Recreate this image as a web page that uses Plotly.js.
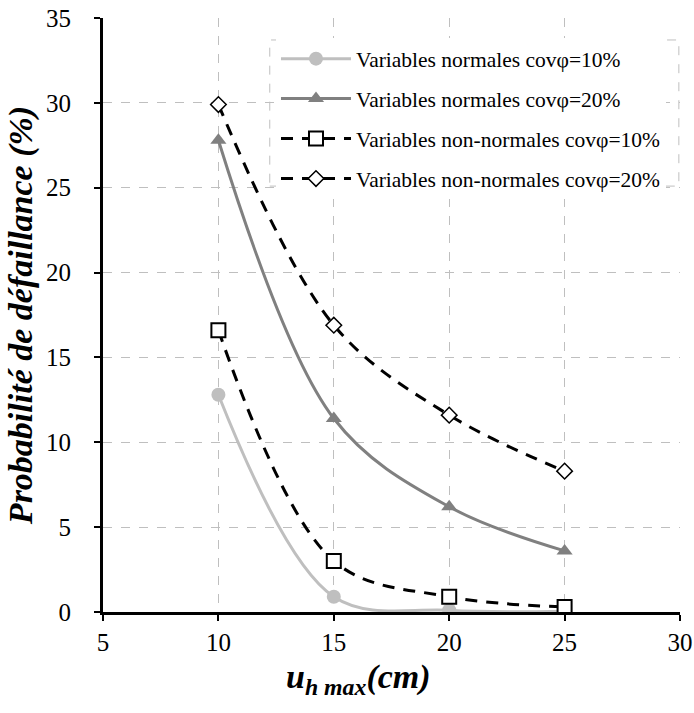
<!DOCTYPE html>
<html>
<head>
<meta charset="utf-8">
<script src="https://cdn.plot.ly/plotly-3.0.1.min.js"></script>
<style>html,body{margin:0;padding:0;background:#fff;}#chart{width:694px;height:713px;}</style>
</head>
<body>
<div id="chart"></div>
<script>
const xValues = [10, 15, 20, 25];
const normal10 = [12.8, 0.9, 0.1, 0.05];
const normal20 = [27.8, 11.4, 6.2, 3.6];
const nonNormal10 = [16.6, 3.0, 0.9, 0.3];
const nonNormal20 = [29.9, 16.9, 11.6, 8.3];
const seriesNames = [
  'Variables normales covφ=10%',
  'Variables normales covφ=20%',
  'Variables non-normales covφ=10%',
  'Variables non-normales covφ=20%'
];
const xTicks = [5, 10, 15, 20, 25, 30];
const yTicks = [0, 5, 10, 15, 20, 25, 30, 35];
const xTitle = '<b><i>u<sub>h max</sub>(cm)</i></b>';
const yTitle = '<b><i>Probabilité de défaillance (%)</i></b>';

const serif = '"Liberation Serif", "Times New Roman", Times, serif';
const traces = [
  {x: xValues, y: normal10, name: seriesNames[0], legendgroup: 'a', mode: 'lines+markers',
   line: {shape: 'spline', smoothing: 1, color: '#bfbfbf', width: 3},
   marker: {symbol: 'circle', size: 14, color: '#bfbfbf'}},
  {x: xValues, y: normal20, name: seriesNames[1], legendgroup: 'b', mode: 'lines+markers',
   line: {shape: 'spline', smoothing: 1, color: '#808080', width: 3},
   marker: {symbol: 'triangle-up', size: 14, color: '#808080'}},
  {x: xValues, y: nonNormal10, name: seriesNames[2], legendgroup: 'c', mode: 'lines+markers',
   line: {shape: 'spline', smoothing: 1, color: '#000000', width: 3, dash: '12px,9px'},
   marker: {symbol: 'square', size: 14, color: '#ffffff', line: {color: '#000000', width: 2}}},
  {x: xValues, y: nonNormal20, name: seriesNames[3], legendgroup: 'd', mode: 'lines+markers',
   line: {shape: 'spline', smoothing: 1, color: '#000000', width: 3, dash: '12px,9px'},
   marker: {symbol: 'diamond', size: 12, color: '#ffffff', line: {color: '#000000', width: 1.5}}}
];

const layout = {
  width: 694, height: 713,
  margin: {l: 103, r: 14, t: 18, b: 101},
  paper_bgcolor: '#ffffff', plot_bgcolor: '#ffffff',
  font: {family: serif, size: 22, color: '#000'},
  showlegend: true,
  legend: {
    x: 0.2998, y: 0.966, xanchor: 'left', yanchor: 'top',
    bgcolor: '#ffffff', borderwidth: 0,
    font: {family: serif, size: 21.5, color: '#000'},
    itemwidth: 70, traceorder: 'grouped', tracegroupgap: 9
  },
  xaxis: {
    range: [5, 30], tickvals: xTicks, ticktext: xTicks.map(String),
    showgrid: true, gridcolor: '#bfbfbf', griddash: 'dash', gridwidth: 1,
    showline: true, linecolor: '#000', linewidth: 3,
    ticks: 'outside', ticklen: 6, tickwidth: 2, tickcolor: '#000',
    zeroline: false, tickfont: {family: serif, size: 25}
  },
  yaxis: {
    range: [0, 35], tickvals: yTicks, ticktext: yTicks.map(String),
    showgrid: true, gridcolor: '#bfbfbf', griddash: 'dash', gridwidth: 1,
    showline: true, linecolor: '#000', linewidth: 3,
    ticks: 'outside', ticklen: 6, tickwidth: 2, tickcolor: '#000',
    ticklabelstandoff: 18,
    zeroline: false, tickfont: {family: serif, size: 25},
    title: {text: yTitle, font: {family: serif, size: 34}, standoff: 4}
  },
  annotations: [
    {text: xTitle, xref: 'paper', yref: 'paper', x: 0.442, y: -0.113,
     xanchor: 'center', yanchor: 'middle', showarrow: false,
     font: {family: serif, size: 34, color: '#000'}}
  ],
  shapes: [
    {type: 'rect', xref: 'paper', yref: 'paper', x0: 0.289, x1: 0.998, y0: 0.717, y1: 0.963,
     line: {color: '#bfbfbf', width: 1, dash: 'dash'}, fillcolor: 'rgba(0,0,0,0)', layer: 'above'}
  ]
};

Plotly.newPlot('chart', traces, layout, {displayModeBar: false, staticPlot: true});
</script>
</body>
</html>
